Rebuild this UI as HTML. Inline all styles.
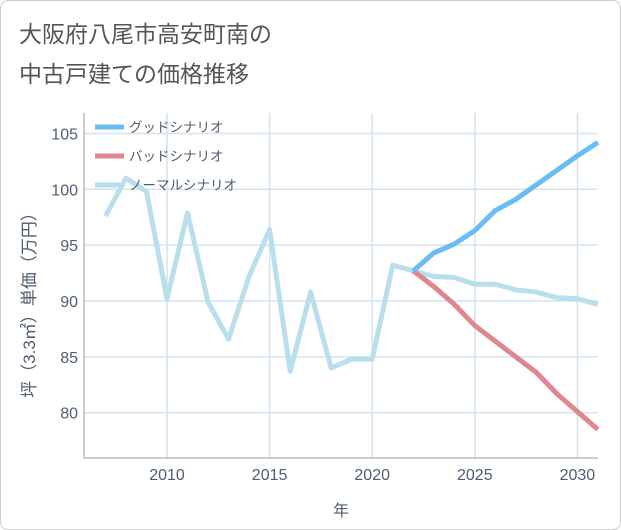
<!DOCTYPE html>
<html><head><meta charset="utf-8"><style>
body{margin:0;background:#fff;}
#card{position:absolute;left:0;top:0;width:619px;height:528px;border:1px solid #ccc;border-radius:8px;background:#fff;overflow:hidden;font-family:"Liberation Sans","Noto Sans CJK JP",sans-serif;}
.t{position:absolute;left:18px;color:#555;font-size:23px;}
</style></head><body>
<div id="card">
<div class="t" style="top:14px">大阪府八尾市高安町南の</div>
<div class="t" style="top:54px">中古戸建ての価格推移</div>
<svg id="chart" width="621" height="530" style="position:absolute;left:0;top:0"></svg>
</div>
<script>
const years=[2007,2008,2009,2010,2011,2012,2013,2014,2015,2016,2017,2018,2019,2020,2021,2022,2023,2024,2025,2026,2027,2028,2029,2030,2031];
const normal=[97.6,101,99.8,90.2,97.9,89.9,86.6,92.2,96.4,83.7,90.8,84.0,84.8,84.8,93.2,92.7,92.2,92.1,91.5,91.5,91.0,90.8,90.3,90.2,89.7];
const futureYears=[2022,2023,2024,2025,2026,2027,2028,2029,2030,2031];
const good=[92.7,94.3,95.1,96.3,98.1,99.1,100.4,101.7,103.0,104.2];
const bad=[92.7,91.3,89.7,87.8,86.4,85.0,83.6,81.7,80.1,78.5];
const xTicks=[2010,2015,2020,2025,2030];
const yTicks=[80,85,90,95,100,105];
const L=83,R=597,T=112,B=457;
const TC='#4e5d70';
const x=y=>166+(y-2010)*20.52;
const yy=v=>300-(v-90)*11.17;
const svg=document.getElementById('chart');
const NS='http://www.w3.org/2000/svg';
function mk(t,a){const e=document.createElementNS(NS,t);for(const k in a)e.setAttribute(k,a[k]);svg.appendChild(e);return e;}
for(const t of xTicks){const g=mk('line',{x1:x(t),x2:x(t),y1:T,y2:B,stroke:'#d3e4ef','stroke-width':1.5});


const l=mk('text',{x:x(t),y:479,'text-anchor':'middle','font-size':16,fill:TC});l.textContent=t;

}
for(const t of yTicks){const g=mk('line',{x1:L,x2:R,y1:yy(t),y2:yy(t),stroke:'#d3e4ef','stroke-width':1.5});


const l=mk('text',{x:77,y:yy(t)+6,'text-anchor':'end','font-size':16,fill:TC});l.textContent=t;

}
const ax=mk('path',{d:`M${L} ${T}V${B}H${R}`,fill:'none',stroke:'#999','stroke-width':1});


function line(xs,vs,c,name){const p=mk('polyline',{points:xs.map((a,i)=>x(a)+','+yy(vs[i])).join(' '),fill:'none',stroke:c,'stroke-width':5,'stroke-linejoin':'round'});

}
line(years,normal,'#b9dfec','normal-scenario-line');
line(futureYears,bad,'#e0868f','bad-scenario-line');
line(futureYears,good,'#6bbcf3','good-scenario-line');
const leg=[['グッドシナリオ','#6bbcf3'],['バッドシナリオ','#e0868f'],['ノーマルシナリオ','#b9dfec']];
leg.forEach((d,i)=>{const yv=126+i*29;
const s=mk('line',{x1:94,x2:123,y1:yv,y2:yv,stroke:d[1],'stroke-width':5});


const t=mk('text',{x:128,y:yv+5,'font-size':13.5,fill:TC});t.textContent=d[0];

});
const xt=mk('text',{x:340,y:515,'text-anchor':'middle','font-size':16,fill:TC});xt.textContent='年';


const yt=mk('text',{x:0,y:0,'text-anchor':'middle','font-size':17,fill:TC,transform:'translate(34,300) rotate(-90)'});yt.textContent='坪（3.3㎡）単価（万円）';


</script>
</body></html>
